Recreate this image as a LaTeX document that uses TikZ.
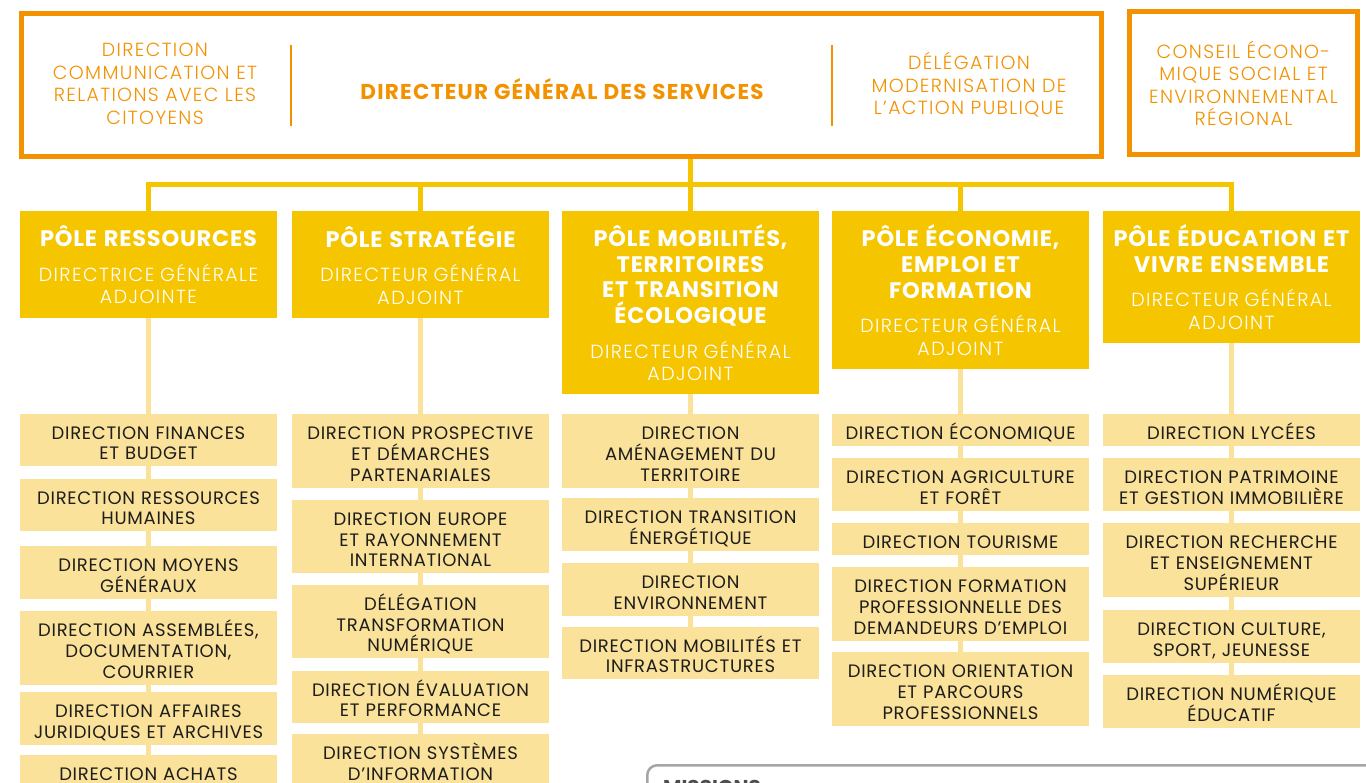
\documentclass[tikz,border=0pt]{standalone}
\usepackage{fontspec}
\setmainfont{Poppins}
\newfontfamily\dirf[LetterSpace=4]{Poppins}
\newfontfamily\titf[LetterSpace=3.5]{Poppins}
\newfontfamily\dgsf[LetterSpace=6]{Poppins}
\IfFontExistsTF{Poppins Light}{%
  \newfontfamily\lightf[LetterSpace=7]{Poppins Light}%
  \newfontfamily\sublf[LetterSpace=7.5]{Poppins Light}}{%
  \newfontfamily\lightf[LetterSpace=7]{Poppins}%
  \newfontfamily\sublf[LetterSpace=7.5]{Poppins}}
\definecolor{orng}{HTML}{F39200}
\definecolor{ylw}{HTML}{F5C500}
\definecolor{pale}{HTML}{FBE29B}
\definecolor{dtext}{HTML}{1D1D1B}
\definecolor{grayb}{HTML}{A5A5A5}
\definecolor{mistext}{HTML}{4D4D4D}
\newcommand{\poletxt}[2]{{\titf\bfseries\fontsize{22.5}{25.7}\selectfont\spaceskip=.3em\xspaceskip=.3em #1\par}\vspace{12pt}{\sublf\fontsize{19}{22.5}\selectfont\spaceskip=.3em\xspaceskip=.3em #2\par}}
\tikzset{
  frame/.style={draw=orng, line width=5pt, inner sep=0pt},
  toptext/.style={text=orng, align=center, inner sep=0pt, font=\lightf\fontsize{19}{22.5}\selectfont},
  polebox/.style={fill=ylw, inner sep=0pt, text=white, align=center, text width=257pt, anchor=north},
  dirbox/.style={fill=pale, inner sep=0pt, text=dtext, align=center, text width=257pt, anchor=north,
    font=\dirf\fontsize{18}{20.7}\selectfont,
    execute at begin node={\rule{0pt}{22pt}},
    execute at end node={\rule[-3.4pt]{0pt}{0pt}}},
  conn/.style={draw=ylw, line width=5pt},
  subconn/.style={draw=pale, line width=5pt},
  sep/.style={draw=orng, line width=2.5pt}
}
\begin{document}
\begin{tikzpicture}[x=1pt,y=-1pt]
\useasboundingbox (0,0) rectangle (1366,783);
\clip (0,0) rectangle (1366,783);
\fill[white] (0,0) rectangle (1366,783);

% top boxes
\node[frame, minimum width=1080pt, minimum height=143pt] (dgs) at (561.5,85) {};
\node[text=orng, inner sep=0pt, font=\dgsf\bfseries\fontsize{21.5}{24}\selectfont] (dgstxt) at (562,89) {DIRECTEUR GÉNÉRAL DES SERVICES};
\node[toptext] (dcrc) at (155,84) {DIRECTION\\COMMUNICATION ET\\RELATIONS AVEC LES\\CITOYENS};
\node[toptext] (dmap) at (969,85) {DÉLÉGATION\\MODERNISATION DE\\L’ACTION PUBLIQUE};
\draw[sep] (291,45) -- (291,126);
\draw[sep] (832,45) -- (832,126);
\node[frame, toptext, minimum width=228pt, minimum height=143pt] (cese) at (1243.5,83.5) {CONSEIL ÉCONO-\\MIQUE SOCIAL ET\\ENVIRONNEMENTAL\\RÉGIONAL};

% poles
\node[polebox, minimum height=107pt] (p1) at (148.5,211) {\poletxt{PÔLE RESSOURCES}{DIRECTRICE GÉNÉRALE\\ADJOINTE}};
\node[polebox, minimum height=107pt] (p2) at (420.5,211) {\poletxt{PÔLE STRATÉGIE}{DIRECTEUR GÉNÉRAL\\ADJOINT}};
\node[polebox, minimum height=183pt] (p3) at (690.5,211) {\poletxt{PÔLE MOBILITÉS,\\TERRITOIRES\\ET TRANSITION\\ÉCOLOGIQUE}{DIRECTEUR GÉNÉRAL\\ADJOINT}};
\node[polebox, minimum height=158pt] (p4) at (960.5,211) {\poletxt{PÔLE ÉCONOMIE,\\EMPLOI ET\\FORMATION}{DIRECTEUR GÉNÉRAL\\ADJOINT}};
\node[polebox, minimum height=132pt] (p5) at (1231.5,211) {\poletxt{PÔLE ÉDUCATION ET\\VIVRE ENSEMBLE}{DIRECTEUR GÉNÉRAL\\ADJOINT}};

% connectors DGS -> poles
\coordinate (bar) at (690.5,185);
\draw[conn] (p3.north) -- (p3.north |- dgs.south);
\draw[conn] (p1.north) |- (bar) -| (p5.north);
\draw[conn] (p2.north) -- (p2.north |- bar);
\draw[conn] (p4.north) -- (p4.north |- bar);

% column 1
\node[dirbox, minimum height=52pt] (d11) at (148.5,414) {DIRECTION FINANCES\\ET BUDGET};
\node[dirbox, minimum height=52pt] (d12) at (148.5,479) {DIRECTION RESSOURCES\\HUMAINES};
\node[dirbox, minimum height=53pt] (d13) at (148.5,546) {DIRECTION MOYENS\\GÉNÉRAUX};
\node[dirbox, minimum height=74pt] (d14) at (148.5,611) {DIRECTION ASSEMBLÉES,\\DOCUMENTATION,\\COURRIER};
\node[dirbox, minimum height=53pt] (d15) at (148.5,692) {DIRECTION AFFAIRES\\JURIDIQUES ET ARCHIVES};
\node[dirbox, minimum height=32pt] (d16) at (148.5,755) {DIRECTION ACHATS};

% column 2
\node[dirbox, minimum height=74pt] (d21) at (420.5,414) {DIRECTION PROSPECTIVE\\ET DÉMARCHES\\PARTENARIALES};
\node[dirbox, minimum height=73pt] (d22) at (420.5,500) {DIRECTION EUROPE\\ET RAYONNEMENT\\INTERNATIONAL};
\node[dirbox, minimum height=73pt] (d23) at (420.5,585) {DÉLÉGATION\\TRANSFORMATION\\NUMÉRIQUE};
\node[dirbox, minimum height=52pt] (d24) at (420.5,671) {DIRECTION ÉVALUATION\\ET PERFORMANCE};
\node[dirbox, minimum height=53pt] (d25) at (420.5,734) {DIRECTION SYSTÈMES\\D’INFORMATION};

% column 3
\node[dirbox, minimum height=74pt] (d31) at (690.5,414) {DIRECTION\\AMÉNAGEMENT DU\\TERRITOIRE};
\node[dirbox, minimum height=53pt] (d32) at (690.5,498) {DIRECTION TRANSITION\\ÉNERGÉTIQUE};
\node[dirbox, minimum height=53pt] (d33) at (690.5,563) {DIRECTION\\ENVIRONNEMENT};
\node[dirbox, minimum height=52pt] (d34) at (690.5,627) {DIRECTION MOBILITÉS ET\\INFRASTRUCTURES};

% column 4
\node[dirbox, minimum height=32pt] (d41) at (960.5,414) {DIRECTION ÉCONOMIQUE};
\node[dirbox, minimum height=53pt] (d42) at (960.5,458) {DIRECTION AGRICULTURE\\ET FORÊT};
\node[dirbox, minimum height=32pt] (d43) at (960.5,523) {DIRECTION TOURISME};
\node[dirbox, minimum height=74pt] (d44) at (960.5,567) {DIRECTION FORMATION\\PROFESSIONNELLE DES\\DEMANDEURS D’EMPLOI};
\node[dirbox, minimum height=74pt] (d45) at (960.5,652) {DIRECTION ORIENTATION\\ET PARCOURS\\PROFESSIONNELS};

% column 5
\node[dirbox, minimum height=32pt] (d51) at (1231.5,414) {DIRECTION LYCÉES};
\node[dirbox, minimum height=53pt] (d52) at (1231.5,458) {DIRECTION PATRIMOINE\\ET GESTION IMMOBILIÈRE};
\node[dirbox, minimum height=74pt] (d53) at (1231.5,523) {DIRECTION RECHERCHE\\ET ENSEIGNEMENT\\SUPÉRIEUR};
\node[dirbox, minimum height=53pt] (d54) at (1231.5,610) {DIRECTION CULTURE,\\SPORT, JEUNESSE};
\node[dirbox, minimum height=53pt] (d55) at (1231.5,675) {DIRECTION NUMÉRIQUE\\ÉDUCATIF};

% sub connectors
\foreach \a/\b in {p1/d11,d11/d12,d12/d13,d13/d14,d14/d15,d15/d16,
                   p2/d21,d21/d22,d22/d23,d23/d24,d24/d25,
                   p3/d31,d31/d32,d32/d33,d33/d34,
                   p4/d41,d41/d42,d42/d43,d43/d44,d44/d45,
                   p5/d51,d51/d52,d52/d53,d53/d54,d54/d55}
  \draw[subconn] (\a.south) -- (\b.north);

% missions box
\node[draw=grayb, line width=2.5pt, rounded corners=10pt, minimum width=760pt, minimum height=120pt, anchor=north west, inner sep=0pt] (mis) at (646,764) {};
\node[anchor=north west, inner sep=0pt, text=mistext, font=\bfseries\fontsize{20}{24}\selectfont] (mistxt) at (663,780.5) {MISSIONS};
\end{tikzpicture}
\end{document}
